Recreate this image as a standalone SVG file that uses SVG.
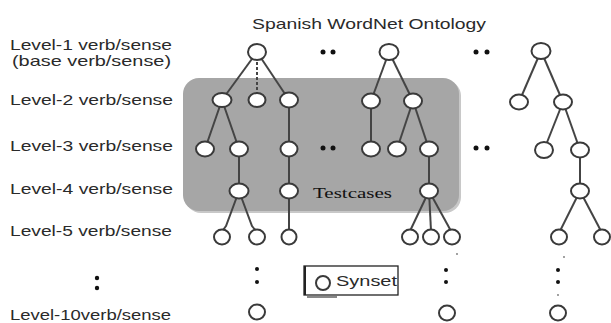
<svg xmlns="http://www.w3.org/2000/svg" width="611" height="323" viewBox="0 0 611 323">
<style>
.lbl{font-family:"Liberation Sans",Arial,sans-serif;font-size:15px;fill:#2a2a2a}
.n{fill:#fff;stroke:#3a3a3a;stroke-width:2}
.e{stroke:#444;stroke-width:2;fill:none}
.d{fill:#111}
</style>
<rect width="611" height="323" fill="#fff"/>
<text class="lbl" x="252" y="29" textLength="234" lengthAdjust="spacingAndGlyphs">Spanish WordNet Ontology</text>
<g id="labels">
<text class="lbl" x="10" y="50" font-size="13.5" textLength="162" lengthAdjust="spacingAndGlyphs">Level-1 verb/sense</text>
<text class="lbl" x="12" y="66" font-size="13.5" textLength="159" lengthAdjust="spacingAndGlyphs">(base verb/sense)</text>
<text class="lbl" x="10" y="105" textLength="163" lengthAdjust="spacingAndGlyphs">Level-2 verb/sense</text>
<text class="lbl" x="10" y="151" textLength="163" lengthAdjust="spacingAndGlyphs">Level-3 verb/sense</text>
<text class="lbl" x="10" y="194" textLength="163" lengthAdjust="spacingAndGlyphs">Level-4 verb/sense</text>
<text class="lbl" x="10" y="236" textLength="162" lengthAdjust="spacingAndGlyphs">Level-5 verb/sense</text>
<circle class="d" cx="97" cy="278" r="2.2"/>
<circle class="d" cx="97" cy="288" r="2.2"/>
<text class="lbl" x="10" y="320" textLength="161" lengthAdjust="spacingAndGlyphs">Level-10verb/sense</text>
</g>
<g id="testcases">
<rect x="185" y="80" width="276" height="133" rx="16" fill="#c8c8c8"/>
<rect x="183" y="78" width="276" height="133" rx="16" fill="#a6a6a6"/>
<text x="313" y="198" font-family="'Liberation Serif','Times New Roman',serif" font-size="14" fill="#111" textLength="79" lengthAdjust="spacingAndGlyphs">Testcases</text>
</g>
<g id="connectors">
<line class="e" x1="257" y1="52" x2="222" y2="100"/>
<line class="e" x1="257" y1="52" x2="257" y2="100" stroke-dasharray="3 2"/>
<line class="e" x1="257" y1="52" x2="289" y2="100"/>
<line class="e" x1="222" y1="100" x2="205" y2="149"/>
<line class="e" x1="222" y1="100" x2="239" y2="149"/>
<line class="e" x1="289" y1="100" x2="289" y2="149" stroke="#111"/>
<line class="e" x1="239" y1="149" x2="239" y2="191" stroke="#111"/>
<line class="e" x1="289" y1="149" x2="289" y2="191" stroke="#111"/>
<path class="e" d="M239 191 L226 226 Q224 229 222 231"/>
<path class="e" d="M239 191 L252 226 Q254 229 257 231"/>
<line class="e" x1="289" y1="191" x2="289" y2="237" stroke="#111"/>
<line class="e" x1="389" y1="52" x2="371" y2="101"/>
<line class="e" x1="389" y1="52" x2="413" y2="101"/>
<line class="e" x1="371" y1="101" x2="371" y2="149" stroke="#111"/>
<line class="e" x1="413" y1="101" x2="397" y2="149"/>
<line class="e" x1="413" y1="101" x2="429" y2="149"/>
<line class="e" x1="429" y1="149" x2="429" y2="191" stroke="#111"/>
<line class="e" x1="429" y1="191" x2="410" y2="231"/>
<line class="e" x1="429" y1="191" x2="431" y2="231"/>
<line class="e" x1="429" y1="191" x2="451" y2="231"/>
<line class="e" x1="541" y1="51" x2="519" y2="102"/>
<line class="e" x1="541" y1="51" x2="563" y2="102"/>
<line class="e" x1="563" y1="102" x2="544" y2="150"/>
<line class="e" x1="563" y1="102" x2="580" y2="150"/>
<line class="e" x1="580" y1="150" x2="580" y2="191"/>
<line class="e" x1="580" y1="191" x2="560" y2="231"/>
<line class="e" x1="580" y1="191" x2="601" y2="231"/>
</g>
<g id="tree1">
<ellipse class="n" cx="257" cy="52" rx="9" ry="8"/>
<ellipse class="n" cx="222" cy="100" rx="9.5" ry="7" stroke="#222"/>
<ellipse class="n" cx="257" cy="100" rx="8.5" ry="7" stroke="#222"/>
<ellipse class="n" cx="289" cy="100" rx="9" ry="7.5" stroke="#222"/>
<ellipse class="n" cx="205" cy="149" rx="9" ry="7.5" stroke="#222"/>
<ellipse class="n" cx="239" cy="149" rx="9" ry="7.5" stroke="#222"/>
<ellipse class="n" cx="289" cy="149" rx="8.5" ry="7.5" stroke="#222"/>
<ellipse class="n" cx="239" cy="191" rx="9.5" ry="7.5" stroke="#222"/>
<ellipse class="n" cx="289" cy="191" rx="9" ry="7.5" stroke="#222"/>
<ellipse class="n" cx="222" cy="237" rx="8" ry="7.5"/>
<ellipse class="n" cx="257" cy="237" rx="8" ry="7.5"/>
<ellipse class="n" cx="289" cy="237" rx="7.5" ry="7.5"/>
<circle class="d" cx="257" cy="269" r="2"/>
<circle class="d" cx="257" cy="282" r="2"/>
<ellipse class="n" cx="257" cy="312" rx="8" ry="7.5"/>
</g>
<g id="tree2">
<ellipse class="n" cx="389" cy="52" rx="9.5" ry="8"/>
<ellipse class="n" cx="371" cy="101" rx="9" ry="7.5" stroke="#222"/>
<ellipse class="n" cx="413" cy="101" rx="9" ry="7.5" stroke="#222"/>
<ellipse class="n" cx="371" cy="149" rx="9" ry="7.5" stroke="#222"/>
<ellipse class="n" cx="397" cy="149" rx="9" ry="7.5" stroke="#222"/>
<ellipse class="n" cx="429" cy="149" rx="9" ry="7.5" stroke="#222"/>
<ellipse class="n" cx="429" cy="191" rx="9" ry="7.5" stroke="#222"/>
<ellipse class="n" cx="410" cy="237" rx="8" ry="7.5"/>
<ellipse class="n" cx="431" cy="237" rx="8" ry="7.5"/>
<ellipse class="n" cx="452" cy="237" rx="8" ry="7.5"/>
<circle fill="#777" cx="457" cy="254" r="0.9"/>
<circle class="d" cx="446" cy="270" r="2"/>
<circle class="d" cx="446" cy="282" r="2"/>
<ellipse class="n" cx="447" cy="313" rx="8" ry="7.5"/>
</g>
<g id="tree3">
<ellipse class="n" cx="541" cy="51" rx="9.5" ry="8" stroke="#555"/>
<ellipse class="n" cx="519" cy="102" rx="9" ry="7.5" stroke="#555"/>
<ellipse class="n" cx="563" cy="102" rx="9" ry="7.5" stroke="#555"/>
<ellipse class="n" cx="544" cy="150" rx="9" ry="8" stroke="#555"/>
<ellipse class="n" cx="580" cy="150" rx="9" ry="7.5" stroke="#555"/>
<ellipse class="n" cx="580" cy="191" rx="9" ry="7.5" stroke="#555"/>
<ellipse class="n" cx="559" cy="237" rx="8" ry="7.5"/>
<ellipse class="n" cx="602" cy="237" rx="8" ry="7.5"/>
<circle fill="#777" cx="564" cy="257" r="0.9"/>
<circle class="d" cx="558" cy="270" r="2"/>
<circle class="d" cx="558" cy="282" r="2"/>
<circle fill="#777" cx="558" cy="295" r="0.9"/>
<ellipse class="n" cx="558" cy="313" rx="8" ry="7.5"/>
</g>
<g id="ellipses">
<circle class="d" cx="323" cy="52" r="2.5"/>
<circle class="d" cx="333" cy="52" r="2.5"/>
<circle class="d" cx="476" cy="52" r="2.5"/>
<circle class="d" cx="487" cy="52" r="2.5"/>
<circle class="d" cx="323" cy="148" r="2.5"/>
<circle class="d" cx="333" cy="148" r="2.5"/>
<circle class="d" cx="476" cy="148" r="2.5"/>
<circle class="d" cx="487" cy="148" r="2.5"/>
</g>
<g id="legend">
<line x1="307" y1="297" x2="337" y2="297" stroke="#888" stroke-width="2"/>
<rect x="304" y="266" width="94" height="29" fill="#fff" stroke="#222" stroke-width="1.3"/>
<line x1="305" y1="266" x2="305" y2="295" stroke="#222" stroke-width="2"/>
<circle class="n" cx="323" cy="283" r="7" stroke="#333" stroke-width="1.6"/>
<text class="lbl" x="336" y="286" textLength="61" lengthAdjust="spacingAndGlyphs">Synset</text>
</g>
</svg>
